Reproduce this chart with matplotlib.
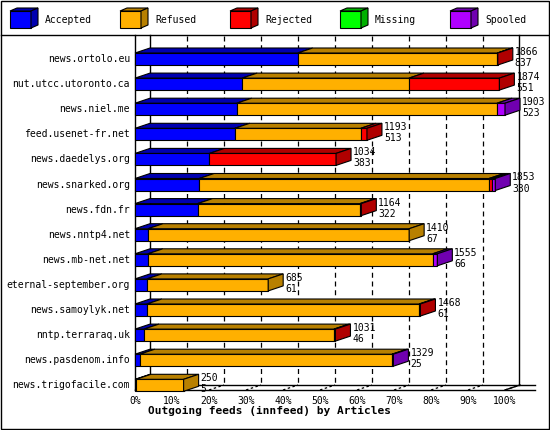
import matplotlib
matplotlib.use('Agg')
import matplotlib.pyplot as plt
from matplotlib.patches import Polygon, Rectangle

# 数据
hosts = ['news.ortolo.eu', 'nut.utcc.utoronto.ca', 'news.niel.me', 'feed.usenet-fr.net',
         'news.daedelys.org', 'news.snarked.org', 'news.fdn.fr', 'news.nntp4.net',
         'news.mb-net.net', 'eternal-september.org', 'news.samoylyk.net', 'nntp.terraraq.uk',
         'news.pasdenom.info', 'news.trigofacile.com']
offered = [1866, 1874, 1903, 1193, 1034, 1853, 1164, 1410, 1555, 685, 1468, 1031, 1329, 250]
accepted = [837, 551, 523, 513, 383, 330, 322, 67, 66, 61, 61, 46, 25, 5]
refused = [1027, 858, 1339, 648, 0, 1491, 835, 1343, 1465, 624, 1400, 977, 1297, 245]
rejected = [2, 465, 0, 32, 651, 15, 7, 0, 0, 0, 7, 8, 0, 0]
missing = [0] * 14
spooled = [0, 0, 41, 0, 0, 17, 0, 0, 24, 0, 0, 0, 7, 0]
legend_names = ['Accepted', 'Refused', 'Rejected', 'Missing', 'Spooled']
pct_ticks = list(range(0, 101, 10))

front = ['#0000ff', '#ffb000', '#ff0000', '#00ff00', '#b000ff']
dark = ['#0000b0', '#b88000', '#b00000', '#00b000', '#7000b0']

X0, X100 = 135, 505
DX, DY = 15, 5
Y_FIRST, ROW, BAR_H = 59, 25.1, 12
vmax = max(offered)
mono = 'DejaVu Sans Mono'


def px(v):
    return X0 + v / vmax * (X100 - X0)


def box3d(ax, x0, x1, ytop, h, fc, dc, side=True, dx=DX, dy=DY):
    ax.add_patch(Rectangle((x0, ytop), x1 - x0, h, fc=fc, ec='black', lw=0.8, zorder=3))
    ax.add_patch(Polygon([(x0, ytop), (x1, ytop), (x1 + dx, ytop - dy), (x0 + dx, ytop - dy)],
                         closed=True, fc=dc, ec='black', lw=0.8, zorder=3))
    if side:
        ax.add_patch(Polygon([(x1, ytop), (x1 + dx, ytop - dy), (x1 + dx, ytop - dy + h), (x1, ytop + h)],
                             closed=True, fc=dc, ec='black', lw=0.8, zorder=3))


fig = plt.figure(figsize=(5.5, 4.3), dpi=100)
ax = fig.add_axes([0, 0, 1, 1])
ax.set_xlim(0, 550)
ax.set_ylim(430, 0)
ax.axis('off')

# 边框与图区
ax.add_patch(Rectangle((1, 1), 548, 428, fc='white', ec='black', lw=1))
ax.plot([1, 549], [35, 35], color='black', lw=1)
ax.plot([X0, X0], [35, 390], color='black', lw=1)
ax.plot([X0 + DX, X0 + DX], [35, 385], color='black', lw=1)
ax.plot([519, 519], [35, 385], color='black', lw=1)
ax.plot([X0, X100 + 30], [390, 390], color='black', lw=1)
ax.plot([X0 + DX, X100 + 30], [385, 385], color='black', lw=1)
ax.plot([X100, X100 + DX], [390, 385], color='black', lw=1)

for p in pct_ticks:
    x = X0 + p / 100 * (X100 - X0)
    if 0 < p < 100:
        ax.plot([x + DX, x + DX], [36, 385], color='black', lw=0.9, ls=(0, (4, 3)), zorder=1)
    ax.plot([x, x + DX], [390, 385], color='black', lw=0.9, ls=(0, (2, 2)))
    ax.text(x, 396, f'{p}%', ha='center', va='top', fontsize=7, family=mono)
ax.text(148, 411, 'Outgoing feeds (innfeed) by Articles', ha='left', va='center',
        fontsize=8, family=mono, weight='bold')

# 条形
for i, h in enumerate(hosts):
    ytop = Y_FIRST + i * ROW - BAR_H / 2
    segs = [accepted[i], refused[i], rejected[i], missing[i], spooled[i]]
    cum = 0
    last = max(k for k, s in enumerate(segs) if s > 0)
    for k, s in enumerate(segs):
        if s <= 0:
            continue
        box3d(ax, px(cum), px(cum + s), ytop, BAR_H, front[k], dark[k], side=(k == last))
        cum += s
    ax.text(130, ytop + BAR_H / 2, h, ha='right', va='center', fontsize=7, family=mono)
    xe = px(cum) + DX + 2
    ax.text(xe, ytop - 1, str(offered[i]), ha='left', va='center', fontsize=7, family=mono)
    ax.text(xe, ytop + 10, str(accepted[i]), ha='left', va='center', fontsize=7, family=mono)

# 图例
for k, name in enumerate(legend_names):
    lx = 10 + k * 110
    box3d(ax, lx, lx + 21, 11, 17, front[k], dark[k], dx=7, dy=3)
    ax.text(lx + 35, 20, name, ha='left', va='center', fontsize=7, family=mono)

fig.savefig('out.png', dpi=100)
